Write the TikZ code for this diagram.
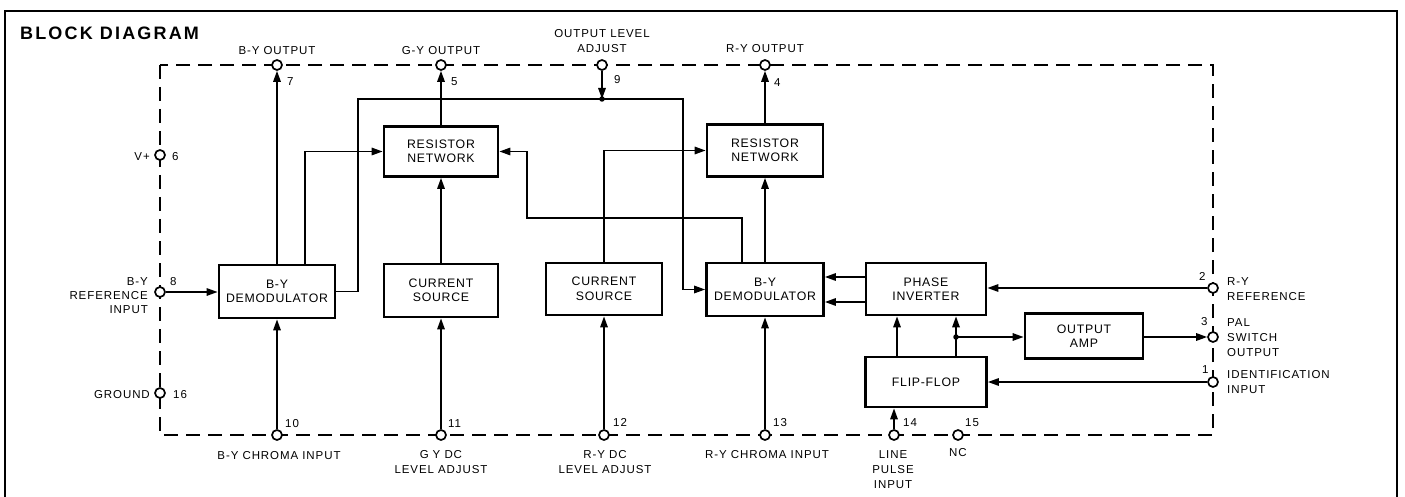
\documentclass[tikz,border=0pt]{standalone}
\usepackage{fontspec}
\setmainfont{Liberation Sans}
\newfontfamily\lblfont[LetterSpace=8]{Liberation Sans}
\newfontfamily\boxfont[LetterSpace=6]{Liberation Sans}
\newfontfamily\ttlfont[LetterSpace=12]{Liberation Sans}
\usetikzlibrary{arrows.meta}
\begin{document}
\begin{tikzpicture}[x=1pt,y=-1pt,
  blk/.style={draw, line width=2.8pt, rectangle, inner sep=0pt, align=center,
    font=\boxfont\fontsize{12.3}{14.5}\selectfont},
  pin/.style={circle, draw, line width=1.7pt, fill=white, minimum size=10pt, inner sep=0pt},
  wire/.style={line width=1.6pt},
  arr/.style={line width=1.6pt, -{Triangle[length=11pt,width=7.5pt]}},
  dot/.style={circle, fill, inner sep=0pt, minimum size=5.5pt},
  lab/.style={font=\lblfont\fontsize{11.5}{15}\selectfont, inner sep=0pt},
  dashbox/.style={line width=1.3pt, dash pattern=on 14pt off 8pt}]
\useasboundingbox (0,0) rectangle (1405,497);
% outer frame
\draw[line width=1.6pt] (5,510) -- (5,11) -- (1397,11) -- (1397,510);
\node[anchor=north west, inner sep=0pt, font=\ttlfont\bfseries\fontsize{18}{20}\selectfont] (title) at (20,27) {BLOCK DIAGRAM};
% package outline
\draw[dashbox] (160,65) rectangle (1213,435);
% pins
\node[pin] (p7) at (277,65) {};
\node[pin] (p5) at (441,65) {};
\node[pin] (p9) at (602,65) {};
\node[pin] (p4) at (765,65) {};
\node[pin] (p6) at (160,155) {};
\node[pin] (p8) at (160,292) {};
\node[pin] (p16) at (160,393) {};
\node[pin] (p10) at (277,435) {};
\node[pin] (p11) at (441,435) {};
\node[pin] (p12) at (604,435) {};
\node[pin] (p13) at (765,435) {};
\node[pin] (p14) at (894,435) {};
\node[pin] (p15) at (958,435) {};
\node[pin] (p2) at (1213,288) {};
\node[pin] (p3) at (1213,337) {};
\node[pin] (p1) at (1213,382) {};
% blocks
\node[blk, minimum width=116pt, minimum height=53pt] (dem1) at (277,291.5) {B-Y\\DEMODULATOR};
\node[blk, minimum width=114pt, minimum height=50pt] (rn1) at (441,151.5) {RESISTOR\\NETWORK};
\node[blk, minimum width=114pt, minimum height=53pt] (cs1) at (441,290.5) {CURRENT\\SOURCE};
\node[blk, minimum width=116pt, minimum height=52pt] (cs2) at (604,289) {CURRENT\\SOURCE};
\node[blk, minimum width=116pt, minimum height=52pt] (rn2) at (765,150.5) {RESISTOR\\NETWORK};
\node[blk, minimum width=117pt, minimum height=53pt] (dem2) at (765,289.5) {B-Y\\DEMODULATOR};
\node[blk, minimum width=120pt, minimum height=52pt] (pi) at (926,289) {PHASE\\INVERTER};
\node[blk, minimum width=118pt, minimum height=45pt] (amp) at (1084,336) {OUTPUT\\AMP};
\node[blk, minimum width=121pt, minimum height=50pt] (ff) at (926,382) {FLIP-FLOP};
% bend points
\coordinate (j9) at (602,99);
\coordinate (cA) at (358,99);
\coordinate (cB) at (683,99);
\coordinate (cC) at (742,218);
\coordinate (cD) at (527,218);
\coordinate (j3) at (956,337);
% connectors
\draw[arr] (p8.east) -- (dem1.west |- p8);
\draw[arr] (dem1.north) -- (p7.south);
\draw[arr] (dem1.north -| 305,0) |- (rn1.west);
\draw[arr] (dem1.east) -| (cA) -- (cB) |- (dem2.west);
\draw[arr] (p9.south) -- (j9);
\node[dot] (d9) at (j9) {};
\draw[arr] (rn1.north) -- (p5.south);
\draw[arr] (cs1.north) -- (rn1.south);
\draw[arr] (p11.north) -- (cs1.south);
\draw[arr] (p10.north) -- (dem1.south);
\draw[arr] (cs2.north) |- (rn2.west);
\draw[arr] (p12.north) -- (cs2.south);
\draw[arr] (dem2.north -| cC) -- (cC) -- (cD) |- (rn1.east);
\draw[arr] (dem2.north) -- (rn2.south);
\draw[arr] (rn2.north) -- (p4.south);
\draw[arr] (p13.north) -- (dem2.south);
\draw[arr] (pi.west |- 0,277) -- (dem2.east |- 0,277);
\draw[arr] (pi.west |- 0,302) -- (dem2.east |- 0,302);
\draw[arr] (p2.west) -- (pi.east |- p2);
\draw[arr] (ff.north -| 897,0) -- (pi.south -| 897,0);
\draw[arr] (ff.north -| j3) -- (pi.south -| j3);
\draw[arr] (j3) -- (amp.west |- j3);
\node[dot] (d3) at (j3) {};
\draw[arr] (amp.east |- p3) -- (p3.west);
\draw[arr] (p1.west) -- (ff.east |- p1);
\draw[arr] (p14.north) -- (ff.south -| p14);
% top labels
\node[lab, anchor=north] (tB) at (277,46) {B-Y OUTPUT};
\node[lab, anchor=north] (tG) at (441,46) {G-Y OUTPUT};
\node[lab, anchor=north, align=center] (tL) at (602,29) {OUTPUT LEVEL\\ADJUST};
\node[lab, anchor=north] (tR) at (765,44) {R-Y OUTPUT};
\node[lab, anchor=north west] (n7) at (287,77) {7};
\node[lab, anchor=north west] (n5) at (451,77) {5};
\node[lab, anchor=north west] (n9) at (614,75) {9};
\node[lab, anchor=north west] (n4) at (774,78) {4};
% left labels
\node[lab, anchor=north east] (tV) at (150,152) {V+};
\node[lab, anchor=north west] (n6) at (172,152) {6};
\node[lab, anchor=north east, align=right, font=\lblfont\fontsize{11.5}{14}\selectfont] (tBR) at (148,277) {B-Y\\REFERENCE\\INPUT};
\node[lab, anchor=north west] (n8) at (170,277) {8};
\node[lab, anchor=north east] (tGnd) at (150,390) {GROUND};
\node[lab, anchor=north west] (n16) at (173,390) {16};
% bottom labels
\node[lab, anchor=north west] (n10) at (285,419) {10};
\node[lab, anchor=north west] (n11) at (448,419) {11};
\node[lab, anchor=north west] (n12) at (613,418) {12};
\node[lab, anchor=north west] (n13) at (773,418) {13};
\node[lab, anchor=north west] (n14) at (903,418) {14};
\node[lab, anchor=north west] (n15) at (965,418) {15};
\node[lab, anchor=north] (tBC) at (279,451) {B-Y CHROMA INPUT};
\node[lab, anchor=north, align=center] (tGDC) at (441,450) {G\phantom{-}Y DC\\LEVEL ADJUST};
\node[lab, anchor=north, align=center] (tRDC) at (605,450) {R-Y DC\\LEVEL ADJUST};
\node[lab, anchor=north] (tRC) at (767,450) {R-Y CHROMA INPUT};
\node[lab, anchor=north, align=center] (tLP) at (893,450) {LINE\\PULSE\\INPUT};
\node[lab, anchor=north] (tNC) at (958,448) {NC};
% right labels
\node[lab, anchor=north west] (n2) at (1199,272) {2};
\node[lab, anchor=north west] (n3) at (1201,317) {3};
\node[lab, anchor=north west] (n1) at (1202,365) {1};
\node[lab, anchor=north west, align=left] (tRR) at (1227,277) {R-Y\\REFERENCE};
\node[lab, anchor=north west, align=left] (tPAL) at (1227,318) {PAL\\SWITCH\\OUTPUT};
\node[lab, anchor=north west, align=left] (tID) at (1227,370) {IDENTIFICATION\\INPUT};
\end{tikzpicture}
\end{document}
